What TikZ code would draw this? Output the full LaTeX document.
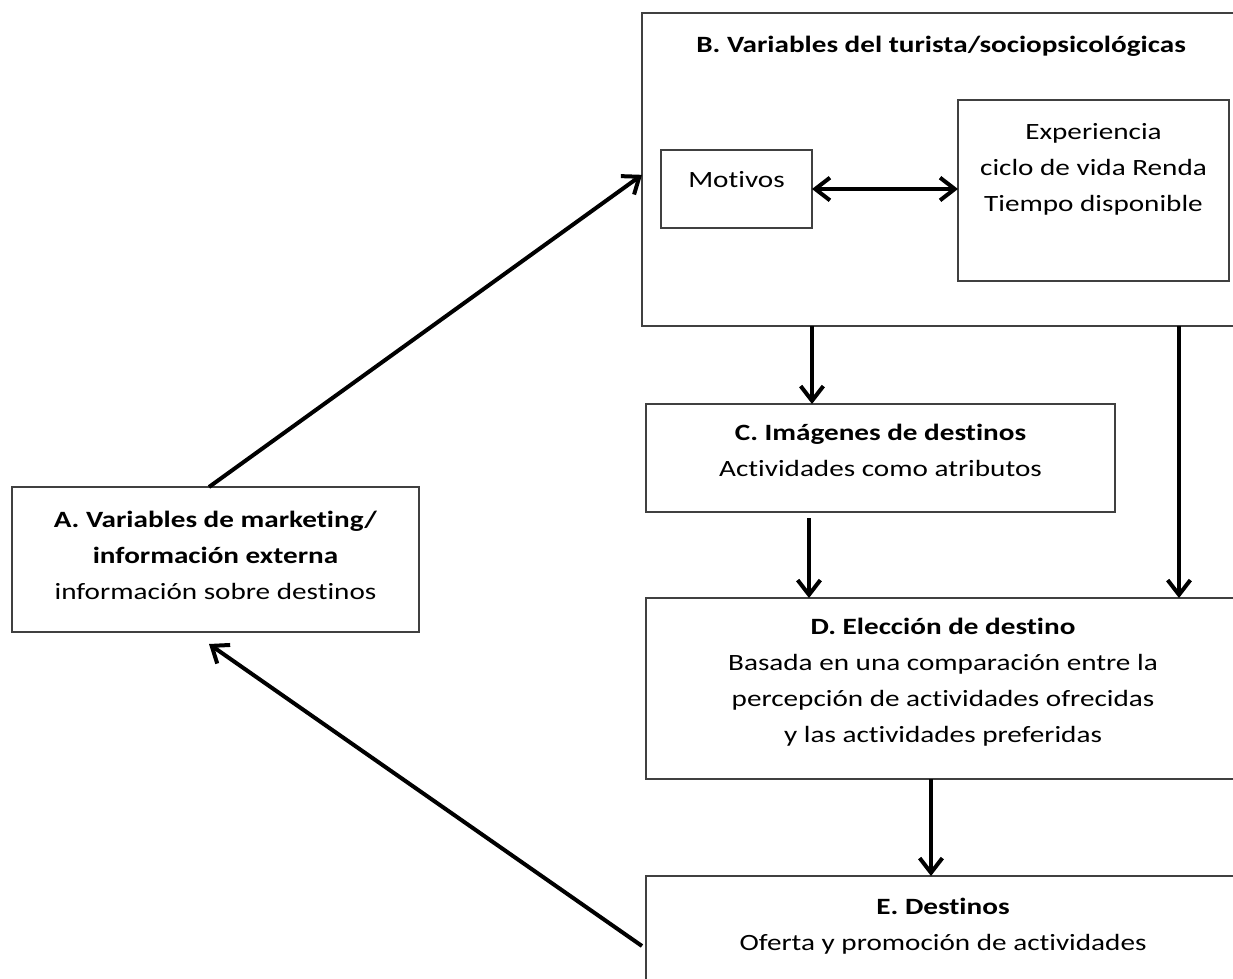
\documentclass[tikz,border=0pt]{standalone}
\usepackage{fontspec}
\setmainfont{Carlito}[FakeStretch=1.25, Ligatures=NoCommon]
\usetikzlibrary{arrows.meta}
% text block inside a box: fixed width and height, lines centred, first baseline at a fixed depth
\newcommand\panel[4]{\parbox[c][#2][t]{#1}{\centering\rule{0pt}{#3}#4}}
\tikzset{
  frame/.style={draw=black!75, line width=0.9pt, inner sep=0pt, outer sep=0pt,
    font=\fontsize{17.5pt}{27pt}\selectfont},
  arr/.style={line width=3pt, -{Straight Barb[length=11pt, width=17pt, line width=3pt]}},
  biarr/.style={line width=3pt, {Straight Barb[length=11pt, width=17pt, line width=3pt]}-{Straight Barb[length=11pt, width=17pt, line width=3pt]}}
}
\begin{document}
\begin{tikzpicture}[x=0.75pt, y=-0.75pt]
\useasboundingbox (0,0) rectangle (1233,979);

% boxes
\node[frame] (A) at (215.5,559.5)
  {\panel{305.25pt}{108.75pt}{30pt}{\textbf{A. Variables de marketing/}\\\textbf{información externa}\\información sobre destinos}};
\node[frame] (B) at (941,169.5)
  {\panel{448.5pt}{234.75pt}{29.5pt}{\textbf{B. Variables del turista/sociopsicológicas}}};
\node[frame] (M) at (736.5,189)
  {\panel{113.25pt}{58.5pt}{28pt}{Motivos}};
\node[frame] (X) at (1093.5,190.5)
  {\panel{203.25pt}{135.75pt}{29.5pt}{Experiencia\\ciclo de vida Renda\\Tiempo disponible}};
\node[frame] (C) at (880.5,458)
  {\panel{351.75pt}{81pt}{27.5pt}{\textbf{C. Imágenes de destinos}\\Actividades como atributos}};
\node[frame] (D) at (943,688.5)
  {\panel{445.5pt}{135.75pt}{27.5pt}{\textbf{D. Elección de destino}\\Basada en una comparación entre la\\percepción de actividades ofrecidas\\y las actividades preferidas}};
\node[frame] (E) at (943,943)
  {\panel{445.5pt}{100.5pt}{28.5pt}{\textbf{E. Destinos}\\Oferta y promoción de actividades}};

% connectors
\draw[arr] ([xshift=147.75pt]A.north west) -- ([yshift=-4pt]B.west);
\draw[biarr] (M.east) -- (M.east -| X.west);
\draw[arr] ([xshift=127.5pt]B.south west) -- ([xshift=127.5pt]B.south west |- C.north);
\draw[arr] ([xshift=402.75pt]B.south west) -- ([xshift=402.75pt]B.south west |- D.north);
\draw[arr] ([xshift=122.25pt, yshift=-4.5pt]C.south west) -- ([xshift=122.25pt]C.south west |- D.north);
\draw[arr] ([xshift=213.75pt]D.south west) -- ([xshift=213.75pt]D.south west |- E.north);
\draw[arr] ([xshift=-3pt, yshift=-2.25pt]E.west) -- ([xshift=147.75pt, yshift=-9pt]A.south west);
\end{tikzpicture}
\end{document}
